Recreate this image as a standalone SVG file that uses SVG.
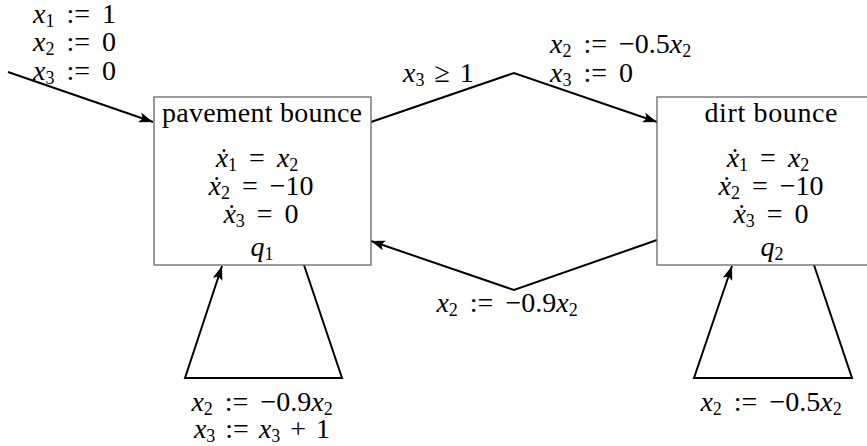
<svg xmlns="http://www.w3.org/2000/svg" width="867" height="446" viewBox="0 0 867 446">
<style>
.i{font-style:italic}
.s{font-size:18px}
.box{fill:#fff;stroke:#666;stroke-width:1.3}
.edge{fill:none;stroke:#000;stroke-width:2;stroke-linejoin:miter}
.m{word-spacing:5px}
.n{word-spacing:3px}
</style>
<defs>
<marker id="arr" markerUnits="userSpaceOnUse" markerWidth="16" markerHeight="12" refX="14" refY="5" orient="auto">
<path d="M0,0 L14,5 L0,10 L3,5 Z" fill="#000"/>
</marker>
</defs>
<rect width="867" height="446" fill="#fff"/>

<g id="connectors">
<polyline class="edge" points="8,72 153,122" marker-end="url(#arr)"/>
<polyline class="edge" points="371,122 514,73 657,122" marker-end="url(#arr)"/>
<polyline class="edge" points="657,240 514,290 371,241" marker-end="url(#arr)"/>
<polyline class="edge" points="304,265 342,378 185,378 222,266" marker-end="url(#arr)"/>
<polyline class="edge" points="814,265 852,378 694,378 732,266" marker-end="url(#arr)"/>
</g>

<g font-family="Liberation Serif, Times New Roman, serif" font-size="28" fill="#000">
<g id="q1">
<rect class="box" x="154" y="97" width="217" height="168"/>
<text x="262" y="122" text-anchor="middle" textLength="200" lengthAdjust="spacing">pavement bounce</text>
<text class="m" x="257" y="167" text-anchor="middle"><tspan class="i">ẋ</tspan><tspan class="s" dy="4">1</tspan><tspan dy="-4"> = </tspan><tspan class="i">x</tspan><tspan class="s" dy="4">2</tspan></text>
<text class="m" x="261" y="195" text-anchor="middle"><tspan class="i">ẋ</tspan><tspan class="s" dy="4">2</tspan><tspan dy="-4"> = −10</tspan></text>
<text class="m" x="261" y="223" text-anchor="middle"><tspan class="i">ẋ</tspan><tspan class="s" dy="4">3</tspan><tspan dy="-4"> = 0</tspan></text>
<text x="262" y="256" text-anchor="middle"><tspan class="i">q</tspan><tspan class="s" dy="4">1</tspan></text>
</g>

<g id="q2">
<rect class="box" x="657" y="97" width="230" height="168"/>
<text x="771" y="122" text-anchor="middle" textLength="133" lengthAdjust="spacing">dirt bounce</text>
<text class="m" x="768" y="167" text-anchor="middle"><tspan class="i">ẋ</tspan><tspan class="s" dy="4">1</tspan><tspan dy="-4"> = </tspan><tspan class="i">x</tspan><tspan class="s" dy="4">2</tspan></text>
<text class="m" x="771" y="195" text-anchor="middle"><tspan class="i">ẋ</tspan><tspan class="s" dy="4">2</tspan><tspan dy="-4"> = −10</tspan></text>
<text class="m" x="771" y="223" text-anchor="middle"><tspan class="i">ẋ</tspan><tspan class="s" dy="4">3</tspan><tspan dy="-4"> = 0</tspan></text>
<text x="772" y="256" text-anchor="middle"><tspan class="i">q</tspan><tspan class="s" dy="4">2</tspan></text>
</g>

<g id="labels">
<text class="m" x="33" y="23"><tspan class="i">x</tspan><tspan class="s" dy="4">1</tspan><tspan dy="-4"> := 1</tspan></text>
<text class="m" x="33" y="51"><tspan class="i">x</tspan><tspan class="s" dy="4">2</tspan><tspan dy="-4"> := 0</tspan></text>
<text class="m" x="33" y="80"><tspan class="i">x</tspan><tspan class="s" dy="4">3</tspan><tspan dy="-4"> := 0</tspan></text>

<text class="n" x="403" y="82"><tspan class="i">x</tspan><tspan class="s" dy="4">3</tspan><tspan dy="-4"> ≥ 1</tspan></text>
<text class="m" x="550" y="53"><tspan class="i">x</tspan><tspan class="s" dy="4">2</tspan><tspan dy="-4"> := −0.5</tspan><tspan class="i">x</tspan><tspan class="s" dy="4">2</tspan></text>
<text class="m" x="550" y="82"><tspan class="i">x</tspan><tspan class="s" dy="4">3</tspan><tspan dy="-4"> := 0</tspan></text>

<text class="m" x="507" y="312" text-anchor="middle"><tspan class="i">x</tspan><tspan class="s" dy="4">2</tspan><tspan dy="-4"> := −0.9</tspan><tspan class="i">x</tspan><tspan class="s" dy="4">2</tspan></text>

<text class="m" x="262" y="411" text-anchor="middle"><tspan class="i">x</tspan><tspan class="s" dy="4">2</tspan><tspan dy="-4"> := −0.9</tspan><tspan class="i">x</tspan><tspan class="s" dy="4">2</tspan></text>
<text class="n" x="262" y="438" text-anchor="middle"><tspan class="i">x</tspan><tspan class="s" dy="4">3</tspan><tspan dy="-4"> := </tspan><tspan class="i">x</tspan><tspan class="s" dy="4">3</tspan><tspan dy="-4"> + 1</tspan></text>

<text class="m" x="771" y="411" text-anchor="middle"><tspan class="i">x</tspan><tspan class="s" dy="4">2</tspan><tspan dy="-4"> := −0.5</tspan><tspan class="i">x</tspan><tspan class="s" dy="4">2</tspan></text>
</g>
</g>
</svg>
